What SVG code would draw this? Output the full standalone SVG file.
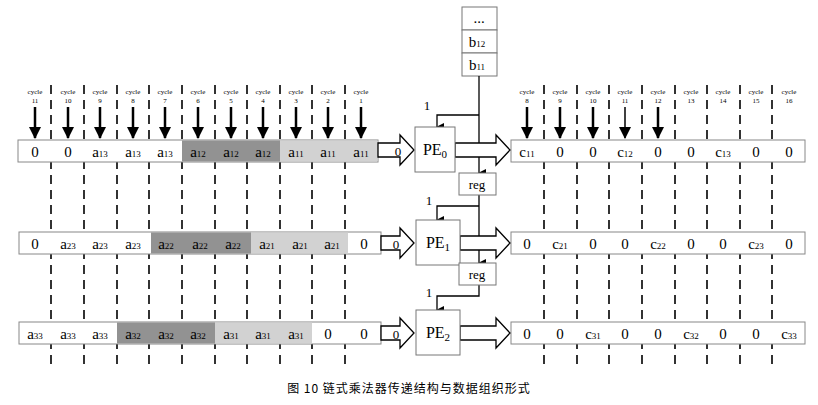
<svg xmlns="http://www.w3.org/2000/svg" width="818" height="405" viewBox="0 0 818 405">
<style>
text{font-family:"Liberation Serif","Times New Roman",serif;fill:#000}
.c{fill:#fff;stroke:#888;stroke-width:1}
.d{fill:#929292}.l{fill:#d2d2d2}
.t{font-size:15px;text-anchor:middle}
.s{font-size:9px}
.cy{font-size:7px;text-anchor:middle}
.dash{stroke:#000;stroke-width:1.6;stroke-dasharray:9,6;fill:none}
.ln{stroke:#000;stroke-width:1.3;fill:none}
.bk{stroke:#000;stroke-width:2.5;fill:none}
.ha{fill:#fff;stroke:#000;stroke-width:1.3}
.box{fill:#fff;stroke:#777;stroke-width:1}
</style>
<defs>
<marker id="ah" markerWidth="8" markerHeight="8" refX="4" refY="7" orient="auto" markerUnits="userSpaceOnUse" viewBox="0 0 8 8"><path d="M0,0 L8,0 L4,8 Z" fill="#000"/></marker>
<marker id="ab" markerWidth="12" markerHeight="12" refX="6" refY="11" viewBox="0 0 12 12" markerUnits="userSpaceOnUse"><path d="M0,0 L12,0 L6,12 Z" fill="#000"/></marker>
</defs>
<g id="dashes">
<path class="dash" d="M51,85V365M84,85V365M117,85V365M149,85V365M182,85V365M215,85V365M247,85V365M280,85V365M312,85V365M345,85V365"/>
<path class="dash" d="M544,85V365M577,85V365M609,85V365M642,85V365M675,85V365M707,85V365M740,85V365M772,85V365"/>
</g>
<g id="row1-left">
<rect class="c" x="18" y="140" width="360" height="22"/>
<rect class="d" x="182" y="140.5" width="98" height="21"/>
<rect class="l" x="280" y="140.5" width="97.5" height="21"/>
<g class="t">
<text x="35" y="157">0</text><text x="68" y="157">0</text>
<text x="100" y="157">a<tspan class="s">13</tspan></text><text x="133" y="157">a<tspan class="s">13</tspan></text><text x="165" y="157">a<tspan class="s">13</tspan></text>
<text x="198" y="157">a<tspan class="s">12</tspan></text><text x="231" y="157">a<tspan class="s">12</tspan></text><text x="263" y="157">a<tspan class="s">12</tspan></text>
<text x="296" y="157">a<tspan class="s">11</tspan></text><text x="328" y="157">a<tspan class="s">11</tspan></text><text x="361" y="157">a<tspan class="s">11</tspan></text>
</g>
</g>
<g id="cycles-left">
<g class="cy">
<text x="35" y="94">cycle</text><text x="35" y="103">11</text>
<text x="68" y="94">cycle</text><text x="68" y="103">10</text>
<text x="100" y="94">cycle</text><text x="100" y="103">9</text>
<text x="133" y="94">cycle</text><text x="133" y="103">8</text>
<text x="165" y="94">cycle</text><text x="165" y="103">7</text>
<text x="198" y="94">cycle</text><text x="198" y="103">6</text>
<text x="231" y="94">cycle</text><text x="231" y="103">5</text>
<text x="263" y="94">cycle</text><text x="263" y="103">4</text>
<text x="296" y="94">cycle</text><text x="296" y="103">3</text>
<text x="328" y="94">cycle</text><text x="328" y="103">2</text>
<text x="361" y="94">cycle</text><text x="361" y="103">1</text>
</g>
<g class="bk" marker-end="url(#ab)">
<path d="M35,107V138"/><path d="M68,107V138"/><path d="M100,107V138"/><path d="M133,107V138"/><path d="M165,107V138"/><path d="M198,107V138"/><path d="M231,107V138"/><path d="M263,107V138"/><path d="M296,107V138"/><path d="M328,107V138"/><path d="M361,107V138"/>
</g>
</g>
<g id="cycles-right">
<g class="cy">
<text x="527" y="94">cycle</text><text x="527" y="103">8</text>
<text x="560" y="94">cycle</text><text x="560" y="103">9</text>
<text x="593" y="94">cycle</text><text x="593" y="103">10</text>
<text x="625" y="94">cycle</text><text x="625" y="103">11</text>
<text x="658" y="94">cycle</text><text x="658" y="103">12</text>
<text x="691" y="94">cycle</text><text x="691" y="103">13</text>
<text x="723" y="94">cycle</text><text x="723" y="103">14</text>
<text x="756" y="94">cycle</text><text x="756" y="103">15</text>
<text x="789" y="94">cycle</text><text x="789" y="103">16</text>
</g>
<g class="bk" marker-end="url(#ab)">
<path d="M527,107V138"/><path d="M560,107V138"/><path d="M593,107V138"/><path d="M658,107V138"/>
<path style="stroke-width:1.5" d="M625,107V138"/>
</g>
</g>
<g id="row1-right">
<rect class="c" x="511" y="140" width="294" height="22"/>
<g class="t">
<text x="527" y="157">c<tspan class="s">11</tspan></text><text x="560" y="157">0</text><text x="593" y="157">0</text>
<text x="625" y="157">c<tspan class="s">12</tspan></text><text x="658" y="157">0</text><text x="691" y="157">0</text>
<text x="723" y="157">c<tspan class="s">13</tspan></text><text x="756" y="157">0</text><text x="789" y="157">0</text>
</g>
</g>
<g id="row2-left">
<rect class="c" x="19" y="232" width="362" height="22"/>
<rect class="d" x="151" y="232.5" width="100" height="21"/>
<rect class="l" x="251" y="232.5" width="97" height="21"/>
<g class="t">
<text x="35" y="249">0</text>
<text x="68" y="249">a<tspan class="s">23</tspan></text><text x="100" y="249">a<tspan class="s">23</tspan></text><text x="133" y="249">a<tspan class="s">23</tspan></text>
<text x="166" y="249">a<tspan class="s">22</tspan></text><text x="200" y="249">a<tspan class="s">22</tspan></text><text x="233" y="249">a<tspan class="s">22</tspan></text>
<text x="267" y="249">a<tspan class="s">21</tspan></text><text x="300" y="249">a<tspan class="s">21</tspan></text><text x="332" y="249">a<tspan class="s">21</tspan></text>
<text x="364" y="249">0</text>
</g>
</g>
<g id="row2-right">
<rect class="c" x="511" y="232" width="294" height="22"/>
<g class="t">
<text x="527" y="249">0</text><text x="560" y="249">c<tspan class="s">21</tspan></text><text x="593" y="249">0</text>
<text x="625" y="249">0</text><text x="658" y="249">c<tspan class="s">22</tspan></text><text x="691" y="249">0</text>
<text x="723" y="249">0</text><text x="756" y="249">c<tspan class="s">23</tspan></text><text x="789" y="249">0</text>
</g>
</g>
<g id="row3-left">
<rect class="c" x="19" y="322" width="362" height="22"/>
<rect class="d" x="117" y="322.5" width="98" height="21"/>
<rect class="l" x="215" y="322.5" width="97" height="21"/>
<g class="t">
<text x="35" y="339">a<tspan class="s">33</tspan></text><text x="68" y="339">a<tspan class="s">33</tspan></text><text x="100" y="339">a<tspan class="s">33</tspan></text>
<text x="133" y="339">a<tspan class="s">32</tspan></text><text x="166" y="339">a<tspan class="s">32</tspan></text><text x="198" y="339">a<tspan class="s">32</tspan></text>
<text x="231" y="339">a<tspan class="s">31</tspan></text><text x="263" y="339">a<tspan class="s">31</tspan></text><text x="296" y="339">a<tspan class="s">31</tspan></text>
<text x="328" y="339">0</text><text x="364" y="339">0</text>
</g>
</g>
<g id="row3-right">
<rect class="c" x="511" y="322" width="294" height="22"/>
<g class="t">
<text x="527" y="339">0</text><text x="560" y="339">0</text><text x="593" y="339">c<tspan class="s">31</tspan></text>
<text x="625" y="339">0</text><text x="658" y="339">0</text><text x="691" y="339">c<tspan class="s">32</tspan></text>
<text x="723" y="339">0</text><text x="756" y="339">0</text><text x="789" y="339">c<tspan class="s">33</tspan></text>
</g>
</g>
<g id="b-stack">
<rect class="box" x="462" y="7" width="35" height="23"/>
<rect class="box" x="462" y="30" width="35" height="23"/>
<rect class="box" x="462" y="53" width="35" height="23"/>
<text class="t" x="479" y="23">...</text>
<text class="t" x="477" y="47">b<tspan class="s">12</tspan></text>
<text class="t" x="477" y="70">b<tspan class="s">11</tspan></text>
</g>
<g id="connectors">
<path class="ln" marker-end="url(#ah)" d="M479,76V173"/>
<path class="ln" marker-end="url(#ah)" d="M479,115H437V127"/>
<path class="ln" marker-end="url(#ah)" d="M479,195V263"/>
<path class="ln" marker-end="url(#ah)" d="M479,206H437V220"/>
<path class="ln" marker-end="url(#ah)" d="M479,285V296H437V310"/>
<polygon class="ha" points="378,143 400,143 400,135 414,150 400,165 400,157 378,157"/>
<polygon class="ha" points="455,143 496,143 496,135 510,150 496,165 496,157 455,157"/>
<polygon class="ha" points="381,236 400,236 400,228 414,243 400,258 400,250 381,250"/>
<polygon class="ha" points="460,236 496,236 496,228 510,243 496,258 496,250 460,250"/>
<polygon class="ha" points="381,326 400,326 400,318 414,333 400,348 400,340 381,340"/>
<polygon class="ha" points="460,326 496,326 496,318 510,333 496,348 496,340 460,340"/>
<text class="t" x="398" y="156" style="font-size:13px">0</text>
<text class="t" x="396" y="249" style="font-size:13px">0</text>
<text class="t" x="396" y="339" style="font-size:13px">0</text>
<text class="t" x="427" y="110" style="font-size:13px">1</text>
<text class="t" x="429" y="205" style="font-size:13px">1</text>
<text class="t" x="429" y="297" style="font-size:13px">1</text>
</g>
<g id="PE0"><rect class="box" x="415" y="127" width="40" height="45"/><text class="t" x="435" y="155" style="font-size:16px">PE<tspan style="font-size:11px" dy="3">0</tspan></text></g>
<g id="PE1"><rect class="box" x="416" y="220" width="44" height="45"/><text class="t" x="438" y="248" style="font-size:16px">PE<tspan style="font-size:11px" dy="3">1</tspan></text></g>
<g id="PE2"><rect class="box" x="416" y="310" width="44" height="45"/><text class="t" x="438" y="338" style="font-size:16px">PE<tspan style="font-size:11px" dy="3">2</tspan></text></g>
<g id="reg1"><rect class="box" x="459" y="173" width="37" height="22"/><text class="t" x="477" y="189" style="font-size:13px">reg</text></g>
<g id="reg2"><rect class="box" x="459" y="263" width="37" height="22"/><text class="t" x="477" y="279" style="font-size:13px">reg</text></g>
<text x="409" y="393" style="font-family:'Noto Sans CJK SC',sans-serif;font-size:12px;text-anchor:middle;letter-spacing:1px">图 10  链式乘法器传递结构与数据组织形式</text>
</svg>
